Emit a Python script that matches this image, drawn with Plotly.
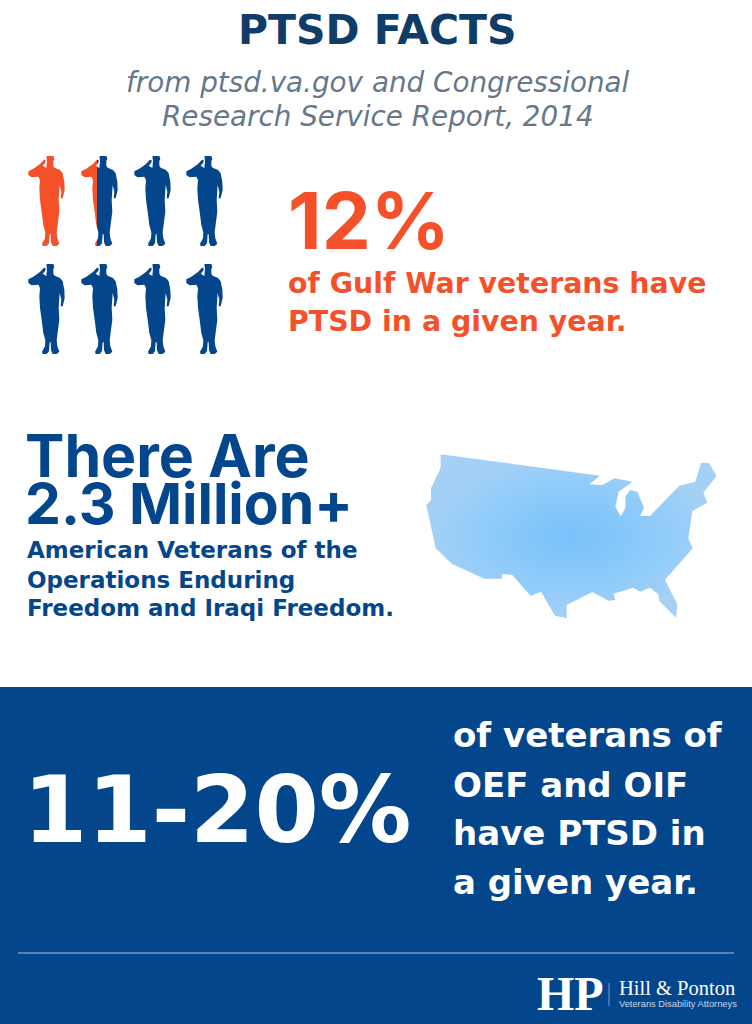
import plotly.graph_objects as go

W, H = 752, 1024
NAVY = "#03468c"; ORANGE = "#f4512a"; TITLE = "#0f3d68"; GREY = "#66778a"

# soldier silhouette outline (local picture units, zoom 3x)
soldier_x = [79,84,100,103,100,100,104,120,128,133,134,128,122,124,119,116,116,118,113,110,112,118,110,98,93,92,89,87,80,68,66,75,76,70,65,60,58,60,55,35,25,25,40,60,72,77,76,68,79,81]
soldier_y = [34,33,33,42,48,62,68,75,85,110,135,160,160,140,120,150,165,200,240,262,280,296,303,303,292,268,268,295,303,303,296,280,262,240,200,165,130,105,95,97,90,79,71,57,44,45,53,62,69,48]
columns = [0, 53, 106, 158]
rows = [0, 108]

# contiguous US outline (zoom 3x units)
map_x = [62,540,508,546,583,638,596,586,602,616,616,630,652,672,660,690,778,826,843,866,890,850,862,817,805,818,735,772,768,718,715,690,660,640,580,586,565,517,440,440,405,363,332,277,247,245,193,96,47,19,33,33,62]
map_y = [28,92,118,121,100,110,140,185,214,190,155,135,140,188,213,213,122,110,54,54,92,143,173,198,280,310,405,478,518,468,448,428,440,428,446,465,467,441,480,520,512,440,453,390,387,401,401,357,310,180,165,130,68]

fig = go.Figure()

fig.add_shape(type="rect", x0=0, x1=W, y0=687, y1=H, fillcolor=NAVY, line_width=0, layer="below")
fig.add_shape(type="line", x0=18, x1=734, y0=953, y1=953, line=dict(color="#a9bdd6", width=1))
fig.add_shape(type="line", x0=609, x1=609, y0=983, y1=1006, line=dict(color="#7f9cc3", width=1))

for r, dy in enumerate(rows):
    for c, dx in enumerate(columns):
        xs = [20 + v / 3 + dx for v in soldier_x]
        ys = [145 + v / 3 + dy for v in soldier_y]
        kw = dict(fillcolor=NAVY)
        if r == 0 and c == 0:
            kw = dict(fillcolor=ORANGE)
        if r == 0 and c == 1:
            kw = dict(fillgradient=dict(type="horizontal", start=min(xs), stop=max(xs),
                      colorscale=[[0, ORANGE], [0.44, ORANGE], [0.44, NAVY], [1, NAVY]]))
        fig.add_trace(go.Scatter(x=xs, y=ys, mode="lines", fill="toself", line=dict(width=0),
                                 hoverinfo="skip", showlegend=False, **kw))

fig.add_trace(go.Scatter(x=[420 + v / 3 for v in map_x], y=[445 + v / 3 for v in map_y],
                         mode="lines", fill="toself", line=dict(width=0), hoverinfo="skip", showlegend=False,
                         fillgradient=dict(type="radial", colorscale=[[0, "#78c3fb"], [0.35, "#85c7fa"], [0.7, "#94cdf9"], [1, "#a5d0f6"]])))

SANS = "DejaVu Sans"
def label(text, x, y, size, color, anchor="left", weight=700, style="normal", family=SANS):
    fig.add_annotation(text=text, x=x, y=y, xref="x", yref="y", xanchor=anchor, yanchor="middle",
                       showarrow=False, font=dict(family=family, size=size, color=color, weight=weight, style=style))

label("PTSD FACTS", 377, 30, 41, TITLE, "center", 700)
label("from ptsd.va.gov and Congressional", 378, 82, 27.8, GREY, "center", 400, "italic")
label("Research Service Report, 2014", 378, 116, 27.8, GREY, "center", 400, "italic")
label("12%", 286, 220, 78, ORANGE, family="Inter")
label("of Gulf War veterans have", 286, 283, 28.4, ORANGE)
label("PTSD in a given year.", 286, 321, 28.4, ORANGE)
label("There Are", 23, 455, 59, NAVY, family="Inter")
label("2.3 Million+", 23, 503, 57, NAVY, family="Inter")
label("American Veterans of the", 25, 550, 23, NAVY)
label("Operations Enduring", 25, 580, 23, NAVY)
label("Freedom and Iraqi Freedom.", 25, 608, 23, NAVY)
label("11-20%", 21, 810, 92.5, "white")
label("of veterans of", 451, 735, 34, "white")
label("OEF and OIF", 451, 785, 34, "white")
label("have PTSD in", 451, 833, 34, "white")
label("a given year.", 451, 882, 34, "white")
label("HP", 535, 993, 48, "white", "left", 700, "normal", "Liberation Serif")
label("Hill &amp; Ponton", 617, 988, 20.5, "white", "left", 400, "normal", "Liberation Serif")
label("Veterans Disability Attorneys", 617, 1004, 9.3, "#c9d6e8", "left", 400, "normal", "Liberation Sans")

fig.update_layout(width=W, height=H, margin=dict(l=0, r=0, t=0, b=0), paper_bgcolor="white", plot_bgcolor="white",
                  xaxis=dict(range=[0, W], visible=False, fixedrange=True),
                  yaxis=dict(range=[H, 0], visible=False, fixedrange=True), showlegend=False)
fig.write_html("out.html", config={"displayModeBar": False}, post_script="document.body.style.margin='0';")
